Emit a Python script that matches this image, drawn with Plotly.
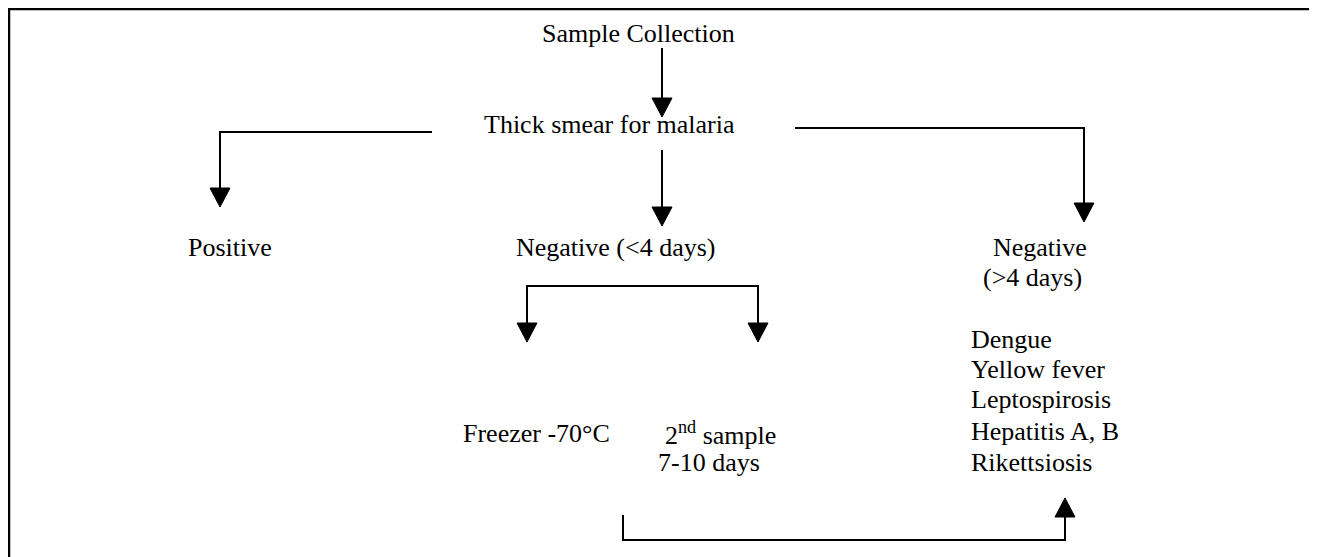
import plotly.graph_objects as go

# ---- content (labels) ----
top_labels = ["Sample Collection", "Thick smear for malaria"]
branch_labels = ["Positive", "Negative (<4 days)", "Negative", "(>4 days)"]
sub_labels = ["Freezer -70°C", "2<sup>nd</sup> sample", "7-10 days"]
disease_labels = ["Dengue", "Yellow fever", "Leptospirosis", "Hepatitis A, B", "Rikettsiosis"]

# ---- layout (pixel positions of nodes & connectors, page coordinates) ----
W, H = 1317, 557
PAGE_MARGIN = 8  # default HTML body margin
text_pos = {
    "Sample Collection": (638, 33, "center"),
    "Thick smear for malaria": (609, 124, "center"),
    "Positive": (230, 247, "center"),
    "Negative (<4 days)": (615, 247, "center"),
    "Negative": (1040, 247, "center"),
    "(>4 days)": (1032, 277, "center"),
    "Freezer -70°C": (536, 433, "center"),
    "2<sup>nd</sup> sample": (720, 433, "center"),
    "7-10 days": (709, 462, "center"),
}
disease_x = 969
disease_y = [339, 369, 399, 431, 462]

# connectors: polyline points, last point is the arrow tip
connectors = [
    ([(662, 48), (662, 117)], "down"),
    ([(432, 132), (220, 132), (220, 207)], "down"),
    ([(662, 150), (662, 226)], "down"),
    ([(795, 128), (1084, 128), (1084, 222)], "down"),
    ([(643, 286), (527, 286), (527, 342)], "down"),
    ([(643, 286), (758, 286), (758, 342)], "down"),
    ([(623, 515), (623, 540), (1065, 540), (1065, 498)], "up"),
]
HEAD_W, HEAD_H = 20, 19
LINE_W = 2
BORDER_L, BORDER_T, BORDER_R = 9, 9, 1313

fig = go.Figure()
shapes = []
for pts, direction in connectors:
    path_pts = list(pts)
    tx, ty = path_pts[-1]
    base = ty - HEAD_H if direction == "down" else ty + HEAD_H
    path_pts[-1] = (tx, base)
    d = "M " + " L ".join(f"{x},{y}" for x, y in path_pts)
    shapes.append(dict(type="path", path=d, line=dict(color="black", width=LINE_W),
                       xref="x", yref="y"))
    tri = f"M {tx - HEAD_W/2},{base} L {tx + HEAD_W/2},{base} L {tx},{ty} Z"
    shapes.append(dict(type="path", path=tri, fillcolor="black",
                       line=dict(color="black", width=1), xref="x", yref="y"))

# outer border (left, top, right; bottom runs off the page)
shapes.append(dict(type="path",
                   path=f"M {BORDER_L},{H+5} L {BORDER_L},{BORDER_T} L {BORDER_R},{BORDER_T} L {BORDER_R},{H+5}",
                   line=dict(color="black", width=2.5), xref="x", yref="y"))

FONT = dict(family="Liberation Serif, Times New Roman, serif", size=26, color="black")
annotations = []
for lab in top_labels + branch_labels + sub_labels:
    x, y, anc = text_pos[lab]
    annotations.append(dict(x=x, y=y, text=lab, showarrow=False, xanchor=anc,
                            yanchor="middle", font=FONT, xref="x", yref="y"))
for lab, y in zip(disease_labels, disease_y):
    annotations.append(dict(x=disease_x, y=y, text=lab, showarrow=False, xanchor="left",
                            yanchor="middle", font=FONT, xref="x", yref="y"))

fig.update_layout(
    width=W - PAGE_MARGIN, height=H - PAGE_MARGIN,
    margin=dict(l=0, r=0, t=0, b=0),
    paper_bgcolor="white", plot_bgcolor="white",
    xaxis=dict(range=[PAGE_MARGIN, W], visible=False, fixedrange=True),
    yaxis=dict(range=[H, PAGE_MARGIN], visible=False, fixedrange=True),
    shapes=shapes, annotations=annotations, showlegend=False,
)
fig.write_html("out.html", config={"displayModeBar": False})
